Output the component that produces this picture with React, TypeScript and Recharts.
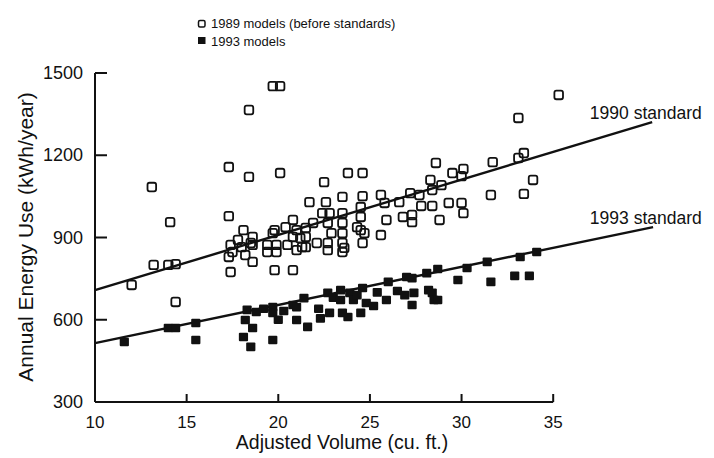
import {
  Legend,
  ReferenceDot,
  ReferenceLine,
  Scatter,
  ScatterChart,
  XAxis,
  YAxis,
} from "recharts";

const FONT = '"Liberation Sans", Arial, Helvetica, sans-serif';
const INK = "#111";

type Pt = { volume: number; energy: number };
const pts = (rows: [number, number][]): Pt[] =>
  rows.map(([volume, energy]) => ({ volume, energy }));

// adjusted volume (cu. ft.) vs annual energy use (kWh/year)
const models1989 = pts([
  [12.0, 727], [13.2, 800], [14.0, 800], [14.4, 803], [13.1, 1084], [14.1, 956], [14.4, 665],
  [17.3, 1157], [18.4, 1121], [18.4, 1365], [19.7, 1452], [20.1, 1452], [20.1, 1135], [17.3, 978],
  [21.7, 1029], [22.5, 1102], [23.8, 1135], [24.6, 1135], [23.5, 1048], [24.6, 1051], [25.6, 1055],
  [25.8, 1026], [26.6, 1029], [27.2, 1062], [27.7, 1055], [25.9, 964], [26.8, 975], [27.3, 956],
  [27.3, 982], [27.8, 1015], [28.4, 1015], [28.8, 964], [28.3, 1110], [28.4, 1073], [28.9, 1091],
  [29.3, 1026], [30.0, 1026], [30.1, 989], [28.6, 1172], [29.5, 1135], [30.1, 1150], [30.0, 1124],
  [31.7, 1175], [31.6, 1055], [33.1, 1190], [33.4, 1208], [33.1, 1336], [35.3, 1420], [33.9, 1110],
  [33.4, 1059], [22.6, 1029], [24.5, 1011], [24.5, 975], [24.3, 938], [24.7, 916], [25.6, 909],
  [24.6, 880], [23.5, 989], [23.5, 953], [22.8, 989], [22.7, 953], [22.9, 916], [23.5, 916],
  [23.5, 880], [22.7, 880], [22.1, 880], [22.7, 854], [23.5, 847], [21.5, 935], [21.5, 902],
  [21.5, 865], [21.9, 953], [22.4, 989], [24.5, 927], [23.6, 862], [18.6, 902], [18.6, 811],
  [19.8, 927], [19.4, 873], [19.9, 873], [20.5, 873], [20.8, 964], [20.4, 938], [20.8, 902],
  [21.3, 865], [18.5, 880], [19.8, 781], [20.8, 781], [17.4, 774], [17.4, 873], [17.3, 829],
  [17.8, 891], [18.1, 927], [18.0, 865], [18.2, 836], [18.6, 873], [19.4, 847], [19.9, 847],
  [21.0, 854], [17.5, 847], [21.0, 927], [21.2, 898], [19.7, 916],
]);

const models1993 = pts([
  [11.6, 519], [14.0, 570], [14.4, 570], [15.5, 588], [15.5, 526],
  [18.3, 636], [18.2, 599], [18.6, 570], [18.1, 537], [18.5, 501], [18.8, 628],
  [19.2, 640], [19.7, 646], [19.7, 625], [19.7, 526], [20.0, 600], [20.3, 632], [20.8, 654],
  [21.0, 646], [21.0, 599], [21.6, 574], [21.4, 679], [22.2, 640], [22.3, 605], [22.7, 698],
  [22.8, 625], [23.0, 680], [23.4, 708], [23.4, 672], [23.8, 610], [23.5, 625], [23.9, 698],
  [24.1, 672], [24.3, 690], [24.5, 625], [24.6, 716], [24.8, 661], [25.2, 650], [25.4, 700],
  [25.9, 672], [26.0, 738], [26.5, 705], [26.9, 690], [27.0, 756], [27.3, 654], [27.3, 752],
  [27.4, 698], [28.1, 770], [28.2, 708], [28.4, 698], [28.5, 672], [28.7, 672], [28.7, 785],
  [29.8, 745], [30.3, 789], [31.4, 811], [31.6, 738], [32.9, 760], [33.7, 760], [33.2, 829],
  [34.1, 847],
]);

const standard1990 = pts([[10, 708], [40.4, 1321]]);
const standard1993 = pts([[10, 515], [40.45, 938]]);
const standardLabels = [
  { text: "1990 standard", at: pts([[37.0, 1354]])[0] },
  { text: "1993 standard", at: pts([[37.0, 971]])[0] },
];

const xTicks = [10, 15, 20, 25, 30, 35];
const yTicks = [300, 600, 900, 1200, 1500];

const seg = (line: Pt[]) => line.map((p) => ({ x: p.volume, y: p.energy }));

function OpenSquare({ cx, cy }: any) {
  return (
    <rect
      x={cx - 4.3}
      y={cy - 4.3}
      width={8.6}
      height={8.6}
      rx={2}
      fill="none"
      stroke={INK}
      strokeWidth={1.8}
    />
  );
}

function FilledSquare({ cx, cy }: any) {
  return <rect x={cx - 4.6} y={cy - 4.3} width={9.2} height={8.6} rx={1} fill={INK} />;
}

function XTick({ x, y, payload }: any) {
  return (
    <g>
      {payload.value !== xTicks[0] && (
        <line x1={x} x2={x} y1={y} y2={y - 8} stroke={INK} strokeWidth={2} />
      )}
      <text x={x} y={y + 26} textAnchor="middle" fontSize={17} fontFamily={FONT} fill={INK}>
        {payload.value}
      </text>
    </g>
  );
}

function YTick({ x, y, payload }: any) {
  return (
    <g>
      <line x1={x} x2={x + 12} y1={y} y2={y} stroke={INK} strokeWidth={2} />
      <text x={x - 12} y={y + 6} textAnchor="end" fontSize={18} fontFamily={FONT} fill={INK}>
        {payload.value}
      </text>
    </g>
  );
}

function LegendBox({ payload }: any) {
  return (
    <div style={{ fontFamily: FONT, fontSize: 13, color: INK, lineHeight: "17.5px" }}>
      {(payload ?? []).map((entry: any, i: number) => (
        <div key={entry.value} style={{ display: "flex", alignItems: "center" }}>
          <svg width={14} height={10}>
            {i === 0 ? (
              <rect x={1.5} y={1.5} width={6.5} height={6.5} rx={1.5} fill="none" stroke={INK} strokeWidth={1.5} />
            ) : (
              <rect x={1} y={1} width={7.5} height={7} fill={INK} />
            )}
          </svg>
          {entry.value}
        </div>
      ))}
    </div>
  );
}

export default function App() {
  return (
    <div style={{ width: 714, height: 458, background: "#fff" }}>
      <style>{"body{margin:0}"}</style>
      <ScatterChart width={714} height={458} margin={{ top: 73, right: 60, bottom: 0, left: 0 }}>
        <XAxis
          type="number"
          dataKey="volume"
          domain={[10, 40.5]}
          ticks={xTicks}
          axisLine={false}
          tickLine={false}
          tickSize={0}
          tickMargin={0}
          height={56}
          tick={<XTick />}
          label={{
            content: () => (
              <text x={342} y={449} textAnchor="middle" fontSize={19.5} fontFamily={FONT} fill={INK}>
                Adjusted Volume (cu. ft.)
              </text>
            ),
          }}
        />
        <YAxis
          type="number"
          dataKey="energy"
          domain={[300, 1500]}
          ticks={yTicks}
          width={95}
          axisLine={{ stroke: INK, strokeWidth: 2 }}
          tickLine={false}
          tickSize={0}
          tickMargin={0}
          tick={<YTick />}
          label={{
            content: () => (
              <text
                transform="translate(33,237) rotate(-90)"
                textAnchor="middle"
                fontSize={21}
                fontFamily={FONT}
                fill={INK}
              >
                Annual Energy Use (kWh/year)
              </text>
            ),
          }}
        />
        <Legend
          layout="horizontal"
          verticalAlign="middle"
          align="center"
          content={<LegendBox />}
          wrapperStyle={{ left: 197, top: 15, width: 280 }}
        />
        <ReferenceLine
          segment={[{ x: 10, y: 300 }, { x: 35, y: 300 }]}
          stroke={INK}
          strokeWidth={2}
          ifOverflow="visible"
        />
        <ReferenceLine segment={seg(standard1990)} stroke={INK} strokeWidth={2.4} ifOverflow="visible" />
        <ReferenceLine segment={seg(standard1993)} stroke={INK} strokeWidth={2.4} ifOverflow="visible" />
        {standardLabels.map((l) => (
          <ReferenceDot
            key={l.text}
            x={l.at.volume}
            y={l.at.energy}
            r={0}
            stroke="none"
            fill="none"
            ifOverflow="visible"
            label={{ value: l.text, position: "right", offset: 0, fill: INK, fontSize: 17.5, fontFamily: FONT }}
          />
        ))}
        <Scatter
          name="1989 models (before standards)"
          data={models1989}
          shape={OpenSquare}
          isAnimationActive={false}
        />
        <Scatter name="1993 models" data={models1993} shape={FilledSquare} isAnimationActive={false} />
      </ScatterChart>
    </div>
  );
}
